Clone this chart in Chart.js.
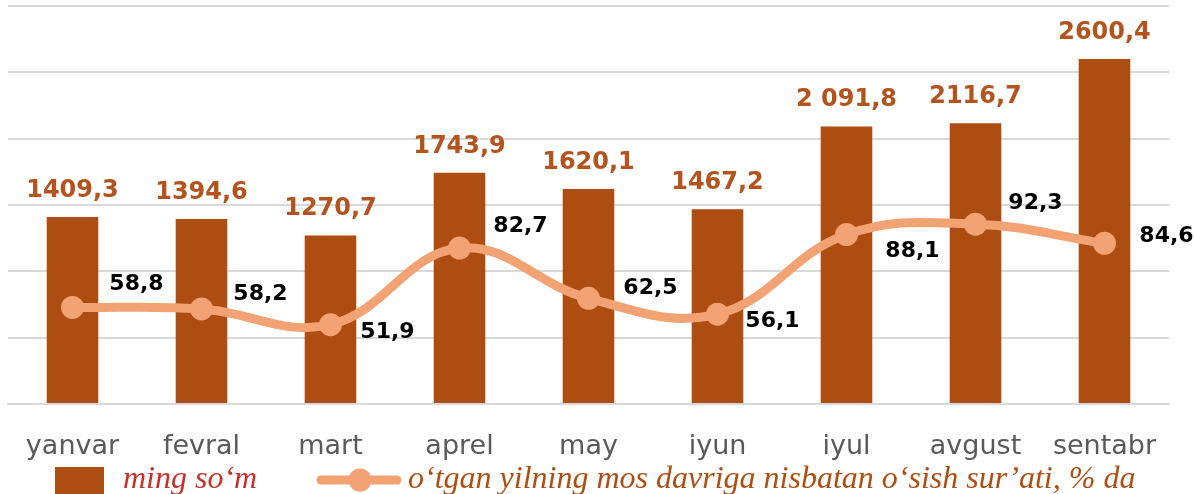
<!DOCTYPE html>
<html>
<head>
<meta charset="utf-8">
<script src="https://cdn.jsdelivr.net/npm/chart.js@4.4.1/dist/chart.umd.min.js"></script>
<style>
  html, body { margin: 0; padding: 0; background: #ffffff; }
  #wrap { width: 1194px; height: 494px; }
</style>
</head>
<body>
<div id="wrap"><canvas id="c" width="1194" height="494"></canvas></div>
<script>
// ---- data ----
const categories = ['yanvar', 'fevral', 'mart', 'aprel', 'may', 'iyun', 'iyul', 'avgust', 'sentabr'];
const amountValues = [1409.3, 1394.6, 1270.7, 1743.9, 1620.1, 1467.2, 2091.8, 2116.7, 2600.4];
const amountLabels = ['1409,3', '1394,6', '1270,7', '1743,9', '1620,1', '1467,2', '2 091,8', '2116,7', '2600,4'];
const growthValues = [58.8, 58.2, 51.9, 82.7, 62.5, 56.1, 88.1, 92.3, 84.6];
const growthLabels = ['58,8', '58,2', '51,9', '82,7', '62,5', '56,1', '88,1', '92,3', '84,6'];
const seriesNames = ['ming so\u2018m', 'o\u2018tgan yilning mos davriga nisbatan o\u2018sish sur\u2019ati, % da'];

// ---- styling (not data) ----
const BAR_COLOR = '#AD4D12';
const BAR_LABEL_COLOR = '#B3541E';
const LINE_COLOR = '#F2A273';
const GRID_COLOR = '#D9D9D9';
const growthLabelOffsets = [[64,-23],[59,-15],[57,8],[61,-22],[62,-10],[55,7],[66,17],[60,-21],[62,-7]];

const labelPlugin = {
  id: 'valueLabels',
  afterDatasetsDraw(chart) {
    const ctx = chart.ctx;
    ctx.save();
    const bm = chart.getDatasetMeta(0);
    ctx.font = 'bold 24px "DejaVu Sans", sans-serif';
    ctx.fillStyle = BAR_LABEL_COLOR;
    ctx.textAlign = 'center';
    ctx.textBaseline = 'alphabetic';
    bm.data.forEach((el, i) => {
      ctx.fillText(amountLabels[i], el.x, el.y - 20);
    });
    const lm = chart.getDatasetMeta(1);
    ctx.font = 'bold 22px "DejaVu Sans", sans-serif';
    ctx.fillStyle = '#000000';
    ctx.textBaseline = 'middle';
    lm.data.forEach((el, i) => {
      const o = growthLabelOffsets[i];
      ctx.fillText(growthLabels[i], el.x + o[0], el.y + o[1]);
    });
    ctx.restore();
  }
};

const legendPlugin = {
  id: 'customLegend',
  afterDraw(chart) {
    const ctx = chart.ctx;
    ctx.save();
    ctx.fillStyle = BAR_COLOR;
    ctx.fillRect(55, 467, 49, 32);
    ctx.font = 'italic 32px "Liberation Serif", serif';
    ctx.textAlign = 'left';
    ctx.textBaseline = 'alphabetic';
    ctx.fillStyle = '#C8302A';
    ctx.fillText(seriesNames[0], 123, 488);
    ctx.strokeStyle = LINE_COLOR;
    ctx.lineWidth = 9;
    ctx.lineCap = 'round';
    ctx.beginPath();
    ctx.moveTo(321, 480);
    ctx.lineTo(397, 480);
    ctx.stroke();
    ctx.fillStyle = LINE_COLOR;
    ctx.beginPath();
    ctx.arc(360, 480, 11.5, 0, Math.PI * 2);
    ctx.fill();
    ctx.fillStyle = '#B04E12';
    ctx.fillText(seriesNames[1], 408, 488);
    ctx.restore();
  }
};

new Chart(document.getElementById('c'), {
  data: {
    labels: categories,
    datasets: [
      {
        type: 'bar',
        label: seriesNames[0],
        data: amountValues,
        backgroundColor: BAR_COLOR,
        yAxisID: 'y',
        categoryPercentage: 1,
        barPercentage: 0.4,
        order: 2
      },
      {
        type: 'line',
        label: seriesNames[1],
        data: growthValues,
        borderColor: LINE_COLOR,
        backgroundColor: LINE_COLOR,
        borderWidth: 9,
        tension: 0.4,
        pointRadius: 11.5,
        pointBackgroundColor: LINE_COLOR,
        pointBorderColor: LINE_COLOR,
        pointBorderWidth: 0,
        yAxisID: 'y1',
        order: 1
      }
    ]
  },
  options: {
    responsive: false,
    devicePixelRatio: 1,
    animation: false,
    events: [],
    layout: { autoPadding: false, padding: { left: 8, right: 25, top: 6, bottom: 0 } },
    plugins: {
      legend: { display: false },
      tooltip: { enabled: false }
    },
    scales: {
      x: {
        grid: { display: false },
        border: { display: true, color: GRID_COLOR, width: 2 },
        ticks: {
          color: '#595959',
          font: { family: '"DejaVu Sans", sans-serif', size: 27 },
          padding: 19,
          maxRotation: 0,
          autoSkip: false
        },
        afterFit(s) { s.height = 90; }
      },
      y: {
        position: 'left',
        min: 0,
        max: 3000,
        ticks: { display: false, stepSize: 500 },
        grid: { color: GRID_COLOR, lineWidth: 2, drawTicks: false },
        border: { display: false },
        afterFit(s) { s.width = 0; }
      },
      y1: {
        position: 'right',
        display: false,
        min: 20,
        max: 180
      }
    }
  },
  plugins: [labelPlugin, legendPlugin]
});
</script>
</body>
</html>
